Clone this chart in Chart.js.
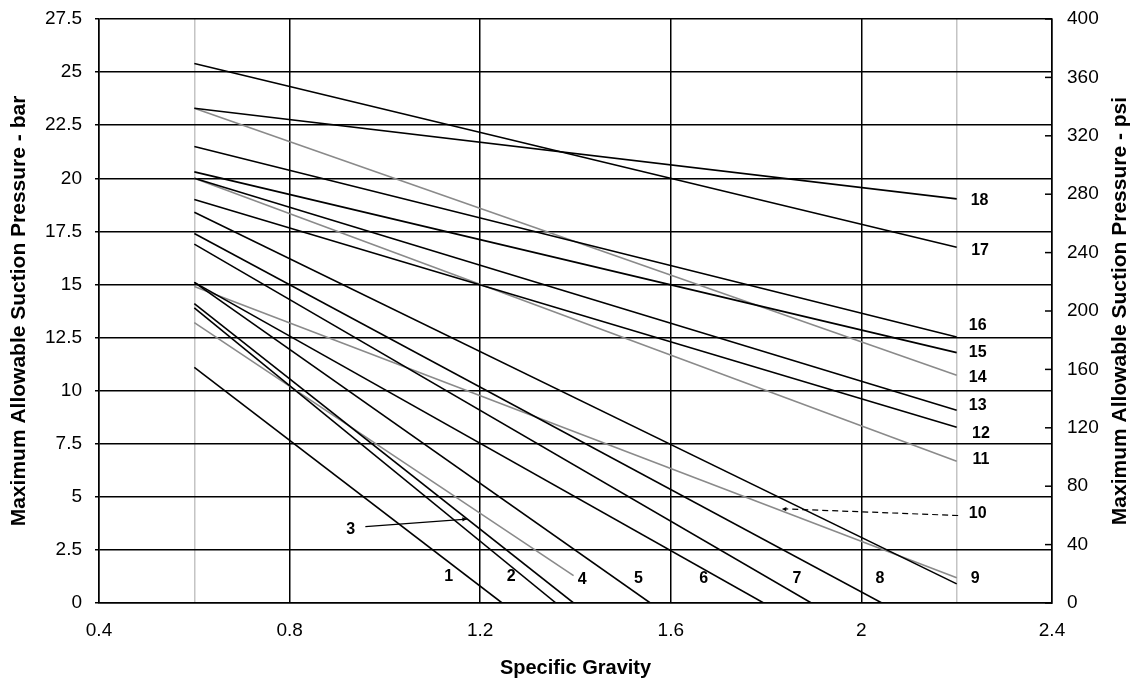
<!DOCTYPE html>
<html>
<head>
<meta charset="utf-8">
<title>Maximum Allowable Suction Pressure</title>
<script src="https://cdn.jsdelivr.net/npm/chart.js@4.4.1/dist/chart.umd.min.js"></script>
<style>
  html, body { margin: 0; padding: 0; background: #fff; }
  #wrap { width: 1136px; height: 681px; position: relative; }
</style>
</head>
<body>
<div id="wrap"><canvas id="grafico"></canvas></div>
<script>
// curve numbers as printed on the chart
const curveNames = ['1','2','3','4','5','6','7','8','9','10','11','12','13','14','15','16','17','18'];
// every curve starts at SG 0.6
const startSG = 0.6;
const startBar = [11.1, 13.9, 14.1, 13.2, 15.1, 15.1, 16.9, 17.4, 18.4, 14.9, 20.0, 19.0, 20.0, 23.3, 20.3, 21.5, 25.4, 23.3];
const endSG    = [1.246, 1.359, 1.396, 1.396, 1.557, 1.795, 1.895, 2.043, 2.2, 2.2, 2.2, 2.2, 2.2, 2.2, 2.2, 2.2, 2.2, 2.2];
const endBar   = [0, 0, 0, 1.29, 0, 0, 0, 0, 0.9, 1.19, 6.67, 8.28, 9.08, 10.73, 11.79, 12.53, 16.75, 19.03];
const greyCurves = ['4', '10', '11', '14'];

// axes
const sgTicks = [0.4, 0.8, 1.2, 1.6, 2.0, 2.4];
const sgGuides = [0.6, 2.2];
const barTicks = [0, 2.5, 5, 7.5, 10, 12.5, 15, 17.5, 20, 22.5, 25, 27.5];
const psiTicks = [0, 40, 80, 120, 160, 200, 240, 280, 320, 360, 400];

const FONT = '"Liberation Sans", Arial, sans-serif';

document.addEventListener("DOMContentLoaded", () => {

    const canvas = document.querySelector("#grafico");

    const datasets = curveNames.map((n, i) => ({
        label: 'Curve ' + n,
        data: [{ x: startSG, y: startBar[i] }, { x: endSG[i], y: endBar[i] }],
        borderColor: greyCurves.includes(n) ? '#8a8a8a' : '#000',
        borderWidth: 1.6,
        pointRadius: 0,
        showLine: true,
        fill: false,
        tension: 0,
        order: greyCurves.includes(n) ? 1 : 0
    }));

    // labels, leader for 3 and dashed arrow for 10 (in data units)
    const labelAt = {
        '1': [1.134, 1.24], '2': [1.265, 1.24], '3': [0.928, 3.48], '4': [1.414, 1.08],
        '5': [1.532, 1.13], '6': [1.669, 1.13], '7': [1.865, 1.13], '8': [2.039, 1.13],
        '9': [2.239, 1.13], '10': [2.244, 4.2], '11': [2.251, 6.75], '12': [2.251, 8.0],
        '13': [2.244, 9.3], '14': [2.244, 10.61], '15': [2.244, 11.81], '16': [2.244, 13.08],
        '17': [2.249, 16.61], '18': [2.248, 18.93]
    };
    const leader3 = [[0.959, 3.60], [1.172, 3.95]];
    const arrow10 = [[2.203, 4.12], [1.833, 4.43]];

    function arrowHead(ctx, x0, y0, x1, y1, size) {
        const a = Math.atan2(y1 - y0, x1 - x0);
        ctx.beginPath();
        ctx.moveTo(x1, y1);
        ctx.lineTo(x1 - size * Math.cos(a - 0.45), y1 - size * Math.sin(a - 0.45));
        ctx.lineTo(x1 - size * Math.cos(a + 0.45), y1 - size * Math.sin(a + 0.45));
        ctx.closePath();
        ctx.fill();
    }

    const anotaciones = {
        id: 'anotaciones',
        afterDatasetsDraw(chart) {
            const { ctx, chartArea } = chart;
            const x = chart.scales.x, y = chart.scales.y, y2 = chart.scales.y2;
            ctx.save();
            ctx.strokeStyle = '#000';
            ctx.fillStyle = '#000';

            // inward ticks on the psi axis
            ctx.lineWidth = 1.5;
            psiTicks.forEach(v => {
                const py = y2.getPixelForValue(v);
                ctx.beginPath();
                ctx.moveTo(chartArea.right - 7, py);
                ctx.lineTo(chartArea.right, py);
                ctx.stroke();
            });

            // leader line for curve 3
            ctx.lineWidth = 1.2;
            let p0 = [x.getPixelForValue(leader3[0][0]), y.getPixelForValue(leader3[0][1])];
            let p1 = [x.getPixelForValue(leader3[1][0]), y.getPixelForValue(leader3[1][1])];
            ctx.beginPath(); ctx.moveTo(p0[0], p0[1]); ctx.lineTo(p1[0], p1[1]); ctx.stroke();
            arrowHead(ctx, p0[0], p0[1], p1[0], p1[1], 5);

            // dashed arrow for curve 10
            p0 = [x.getPixelForValue(arrow10[0][0]), y.getPixelForValue(arrow10[0][1])];
            p1 = [x.getPixelForValue(arrow10[1][0]), y.getPixelForValue(arrow10[1][1])];
            ctx.setLineDash([6, 4]);
            ctx.beginPath(); ctx.moveTo(p0[0], p0[1]); ctx.lineTo(p1[0] + 4, p1[1]); ctx.stroke();
            ctx.setLineDash([]);
            arrowHead(ctx, p0[0], p0[1], p1[0], p1[1], 5);

            // curve numbers
            ctx.font = 'bold 16px ' + FONT;
            ctx.textAlign = 'center';
            ctx.textBaseline = 'middle';
            curveNames.forEach(n => {
                const p = labelAt[n];
                ctx.fillText(n, x.getPixelForValue(p[0]), y.getPixelForValue(p[1]));
            });
            ctx.restore();
        },
        afterDraw(chart) {
            // right title reads bottom-to-top like the left one
            const { ctx, chartArea } = chart;
            ctx.save();
            ctx.translate(1120, (chartArea.top + chartArea.bottom) / 2);
            ctx.rotate(-Math.PI / 2);
            ctx.font = 'bold 21px ' + FONT;
            ctx.fillStyle = '#000';
            ctx.textAlign = 'center';
            ctx.textBaseline = 'middle';
            ctx.fillText('Maximum Allowable Suction Pressure - psi', 0, 0);
            ctx.restore();
        }
    };

    const isGuide = v => sgGuides.some(g => Math.abs(g - v) < 1e-6);

    new Chart(canvas, {
        type: 'scatter',
        data: { datasets },
        plugins: [anotaciones],
        options: {
            responsive: true,
            maintainAspectRatio: false,
            animation: false,
            layout: { padding: { top: 19, left: 0, right: 0, bottom: 0 } },
            plugins: { legend: { display: false }, tooltip: { enabled: false } },
            scales: {
                x: {
                    type: 'linear',
                    min: 0.4, max: 2.4,
                    afterBuildTicks: s => {
                        s.ticks = sgTicks.concat(sgGuides).sort((a, b) => a - b).map(v => ({ value: v }));
                    },
                    afterFit: s => { s.height = 78; },
                    ticks: {
                        autoSkip: false,
                        maxRotation: 0,
                        padding: 16,
                        color: '#000',
                        font: { family: FONT, size: 19 },
                        callback: v => isGuide(v) ? '' : String(Math.round(v * 10) / 10)
                    },
                    grid: {
                        drawTicks: false,
                        lineWidth: 1.5,
                        color: c => (c.tick && isGuide(c.tick.value)) ? '#c4c4c4' : '#000'
                    },
                    border: { display: true, color: '#000', width: 1.5 },
                    title: {
                        display: true,
                        text: 'Specific Gravity',
                        color: '#000',
                        font: { family: FONT, size: 20, weight: 'bold' },
                        padding: { top: 0, bottom: 1 }
                    }
                },
                y: {
                    position: 'left',
                    min: 0, max: 27.5,
                    afterBuildTicks: s => { s.ticks = barTicks.map(v => ({ value: v })); },
                    afterFit: s => { s.width = 99; s.paddingTop = 0; s.paddingBottom = 0; },
                    ticks: {
                        padding: 13,
                        color: '#000',
                        font: { family: FONT, size: 19 }
                    },
                    grid: { color: '#000', lineWidth: 1.5, tickLength: 4 },
                    border: { display: true, color: '#000', width: 1.5 },
                    title: {
                        display: true,
                        text: 'Maximum Allowable Suction Pressure - bar',
                        color: '#000',
                        font: { family: FONT, size: 21, weight: 'bold' },
                        padding: { top: 7, bottom: 0 }
                    }
                },
                y2: {
                    position: 'right',
                    min: 0, max: 400,
                    afterBuildTicks: s => { s.ticks = psiTicks.map(v => ({ value: v })); },
                    afterFit: s => { s.width = 84; s.paddingTop = 0; s.paddingBottom = 0; },
                    ticks: {
                        padding: 15,
                        color: '#000',
                        font: { family: FONT, size: 19 }
                    },
                    grid: { drawOnChartArea: false, drawTicks: false },
                    border: { display: true, color: '#000', width: 1.5 }
                }
            }
        }
    });
});
</script>
</body>
</html>
